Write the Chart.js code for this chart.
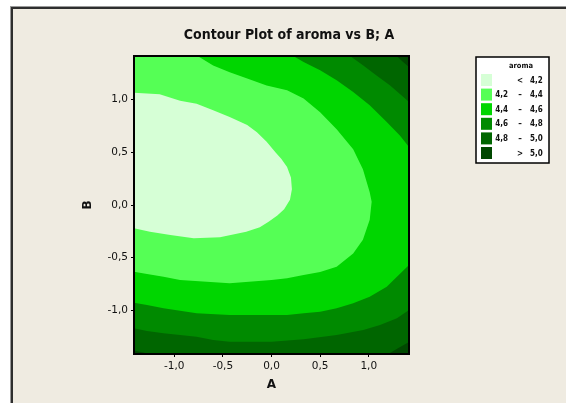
<!DOCTYPE html>
<html>
<head>
<meta charset="utf-8">
<script src="https://cdn.jsdelivr.net/npm/chart.js@4.4.1/dist/chart.umd.min.js"></script>
<style>
  html, body { margin: 0; padding: 0; background: #ffffff; }
  #wrap { position: relative; width: 566px; height: 403px; overflow: hidden; }
  #panel {
    position: absolute; left: 11px; top: 7px; width: 620px; height: 460px;
    background: #efebe1;
    border-left: 2px solid #2e2e2e; border-top: 2px solid #2e2e2e;
    box-shadow: -1px -1px 0 #9a9a9a;
  }
  canvas { position: absolute; left: 0; top: 0; }
</style>
</head>
<body>
<div id="wrap">
  <div id="panel"></div>
  <canvas id="c" width="566" height="403"></canvas>
</div>
<script>
// Design region (coded factors, axial points at +/-1.414)
const A_LIMITS = [-1.414, 1.414];
const B_LIMITS = [-1.414, 1.414];
const X_TICKS = [-1, -0.5, 0, 0.5, 1];
const Y_TICKS = [-1, -0.5, 0, 0.5, 1];

// Contour levels of aroma
const LEVELS = [4.2, 4.4, 4.6, 4.8, 5.0];

// Each contour: boundary of the region where aroma is below the level, as [A, B] pairs
const CONTOUR_4_2 = [
  [-1.414, 1.065], [-1.15, 1.05], [-0.94, 0.99], [-0.77, 0.96], [-0.60, 0.90],
  [-0.43, 0.835], [-0.25, 0.76], [-0.15, 0.69], [-0.05, 0.60], [0.04, 0.50],
  [0.10, 0.44], [0.16, 0.36], [0.20, 0.26], [0.21, 0.15], [0.19, 0.05],
  [0.13, -0.04], [0.06, -0.10], [-0.03, -0.16], [-0.12, -0.21], [-0.26, -0.255],
  [-0.53, -0.305], [-0.80, -0.315], [-1.04, -0.285], [-1.25, -0.253], [-1.414, -0.221]
];
const CONTOUR_4_4 = [
  [-1.414, 1.414], [-0.76, 1.414], [-0.60, 1.325], [-0.43, 1.26], [-0.25, 1.20],
  [-0.05, 1.135], [0.16, 1.09], [0.33, 1.01], [0.50, 0.88], [0.67, 0.72],
  [0.84, 0.53], [0.94, 0.34], [1.01, 0.12], [1.03, 0.03], [1.01, -0.14],
  [0.94, -0.33], [0.84, -0.46], [0.67, -0.585], [0.50, -0.635], [0.33, -0.665],
  [0.16, -0.695], [0.0, -0.712], [-0.43, -0.743], [-0.94, -0.712], [-1.11, -0.68],
  [-1.28, -0.655], [-1.414, -0.633]
];
const CONTOUR_4_6 = [
  [-1.414, 1.414], [0.224, 1.414], [0.33, 1.357], [0.50, 1.278], [0.67, 1.183],
  [0.84, 1.072], [1.01, 0.946], [1.185, 0.787], [1.32, 0.66], [1.414, 0.55],
  [1.414, -0.569], [1.29, -0.68], [1.185, -0.775], [1.01, -0.87], [0.84, -0.933],
  [0.67, -0.98], [0.50, -1.012], [0.33, -1.028], [0.16, -1.044], [-0.43, -1.044],
  [-0.77, -1.028], [-1.11, -0.98], [-1.28, -0.949], [-1.414, -0.927]
];
const CONTOUR_4_8 = [
  [-1.414, 1.414], [0.808, 1.414], [0.944, 1.325], [1.08, 1.23], [1.22, 1.135],
  [1.356, 1.025], [1.414, 0.977], [1.414, -0.996], [1.29, -1.075], [1.116, -1.139],
  [0.944, -1.186], [0.67, -1.233], [0.33, -1.274], [0.0, -1.297], [-0.43, -1.297],
  [-0.60, -1.28], [-0.77, -1.25], [-0.94, -1.233], [-1.11, -1.217], [-1.28, -1.195],
  [-1.414, -1.17]
];
const CONTOUR_5_0 = [
  [-1.414, 1.414], [1.288, 1.414], [1.35, 1.36], [1.414, 1.31], [1.414, -1.30],
  [1.30, -1.36], [1.20, -1.414], [-1.25, -1.414], [-1.32, -1.40], [-1.414, -1.38]
];

// Band colours, lowest band first
const BAND_COLORS = ['#d6ffd6', '#55ff55', '#00d600', '#008a00', '#006600', '#004800'];

const fmt = v => v.toFixed(1).replace('.', ',');

// Whole design square, shaded as the top band
const FULL_REGION = [
  [A_LIMITS[0], B_LIMITS[1]], [A_LIMITS[1], B_LIMITS[1]],
  [A_LIMITS[1], B_LIMITS[0]], [A_LIMITS[0], B_LIMITS[0]]
];
const REGIONS = [FULL_REGION, CONTOUR_5_0, CONTOUR_4_8, CONTOUR_4_6, CONTOUR_4_4, CONTOUR_4_2];

const datasets = REGIONS.map((pts, i) => ({
  label: i === 0 ? '> ' + fmt(LEVELS[4]) : '< ' + fmt(LEVELS[5 - i]),
  data: pts.map(([a, b]) => ({ x: a, y: b })),
  showLine: true,
  fill: 'shape',
  backgroundColor: BAND_COLORS[5 - i],
  borderColor: 'rgba(0,0,0,0)',
  borderWidth: 0,
  pointRadius: 0,
  pointHoverRadius: 0,
  tension: 0,
  order: REGIONS.length - i
}));

// Legend rows: [low, symbol, high]
const LEGEND_ROWS = [['', '<', fmt(LEVELS[0])]];
for (let i = 1; i < LEVELS.length; i++) LEGEND_ROWS.push([fmt(LEVELS[i - 1]), '\u2013', fmt(LEVELS[i])]);
LEGEND_ROWS.push(['', '>', fmt(LEVELS[LEVELS.length - 1])]);

const decor = {
  id: 'decor',
  afterDatasetsDraw(chart) {
    const { ctx, chartArea: ca } = chart;
    ctx.save();
    ctx.strokeStyle = '#000';
    ctx.lineWidth = 2;
    ctx.strokeRect(ca.left, ca.top, ca.right - ca.left, ca.bottom - ca.top);
    ctx.restore();
  },
  afterDraw(chart) {
    const { ctx } = chart;
    ctx.save();
    // Title
    ctx.fillStyle = '#111';
    ctx.font = 'bold 14px "DejaVu Sans Condensed", "DejaVu Sans", sans-serif';
    ctx.textAlign = 'center';
    ctx.textBaseline = 'middle';
    ctx.fillText('Contour Plot of aroma vs B; A', 289, 35);

    // Key box
    const bx = 476, by = 57, bw = 73, bh = 106;
    ctx.fillStyle = '#ffffff';
    ctx.fillRect(bx, by, bw, bh);
    ctx.strokeStyle = '#000';
    ctx.lineWidth = 1.5;
    ctx.strokeRect(bx, by, bw, bh);

    ctx.fillStyle = '#111';
    ctx.font = 'bold 7.5px "DejaVu Sans Condensed", "DejaVu Sans", sans-serif';
    ctx.textAlign = 'center';
    ctx.fillText('aroma', 521, 66);

    LEGEND_ROWS.forEach((row, i) => {
      const top = 74 + i * 14.6;
      ctx.fillStyle = BAND_COLORS[i];
      ctx.fillRect(481, top, 11, 12);
      const cy = top + 6.5;
      ctx.fillStyle = '#111';
      ctx.font = 'bold 8px "DejaVu Sans Condensed", "DejaVu Sans", sans-serif';
      ctx.textAlign = 'right';
      ctx.fillText(row[0], 508, cy);
      ctx.textAlign = 'center';
      ctx.fillText(row[1], 520, cy);
      ctx.textAlign = 'left';
      ctx.fillText(row[2], 530, cy);
    });
    ctx.restore();
  }
};

const tickFont = { family: '"DejaVu Sans", sans-serif', size: 10.5 };
const axisTitleFont = { family: '"DejaVu Sans", sans-serif', size: 12, weight: 'bold' };

new Chart(document.getElementById('c'), {
  type: 'scatter',
  data: { datasets },
  options: {
    responsive: false,
    animation: false,
    devicePixelRatio: 1,
    events: [],
    layout: { padding: { left: 12, right: 157, top: 56, bottom: 0 } },
    plugins: { legend: { display: false }, tooltip: { enabled: false }, title: { display: false } },
    scales: {
      x: {
        type: 'linear',
        min: A_LIMITS[0], max: A_LIMITS[1],
        afterBuildTicks: s => { s.ticks = X_TICKS.map(v => ({ value: v })); },
        afterFit: s => { s.height = 49; },
        ticks: { callback: v => fmt(v), font: tickFont, color: '#111', padding: 3, maxRotation: 0, autoSkip: false },
        grid: { drawOnChartArea: false, drawTicks: true, tickLength: 3, color: '#000', tickColor: '#000' },
        border: { display: false },
        title: { display: true, text: 'A', font: axisTitleFont, color: '#111', padding: { top: 0, bottom: 11 } }
      },
      y: {
        type: 'linear',
        min: B_LIMITS[0], max: B_LIMITS[1],
        afterBuildTicks: s => { s.ticks = Y_TICKS.map(v => ({ value: v })); },
        afterFit: s => { s.width = 122; },
        ticks: { callback: v => fmt(v), font: tickFont, color: '#111', padding: 3, autoSkip: false },
        grid: { drawOnChartArea: false, drawTicks: true, tickLength: 3, color: '#000', tickColor: '#000' },
        border: { display: false },
        title: { display: true, text: 'B', font: axisTitleFont, color: '#111', padding: { top: 69, bottom: 0 } }
      }
    }
  },
  plugins: [decor]
});
</script>
</body>
</html>
